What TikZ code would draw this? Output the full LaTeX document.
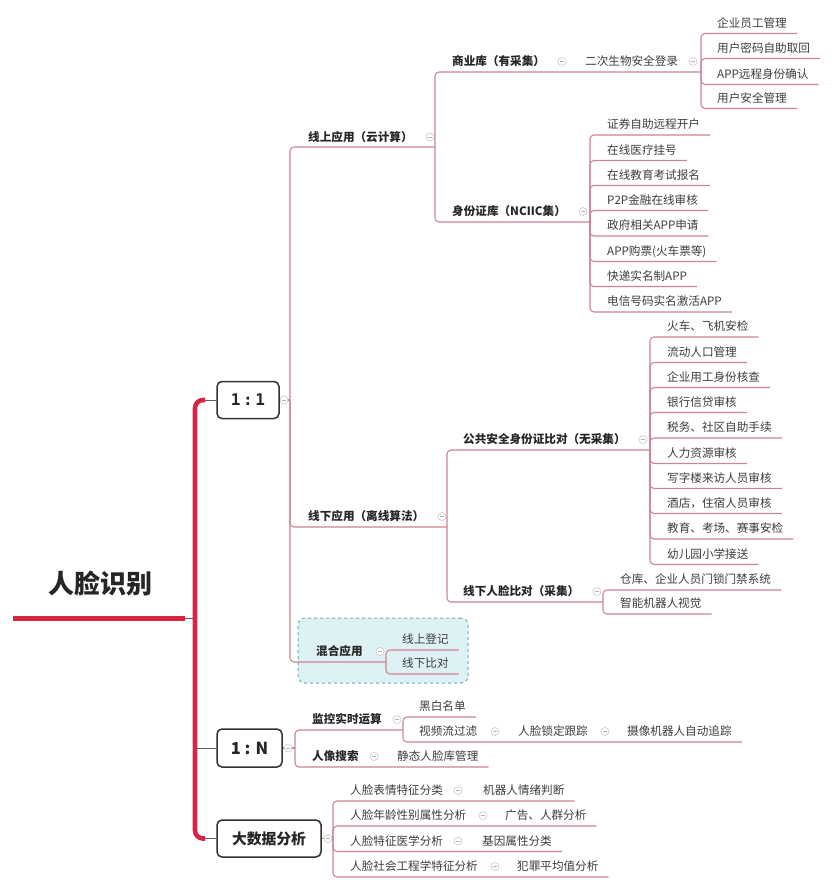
\documentclass[tikz,border=0pt]{standalone}
\usepackage{fontspec}
\setmainfont{Noto Sans CJK SC}
\newfontfamily\monofnt{DejaVu Sans Mono}
\usetikzlibrary{calc}
\definecolor{trunkred}{RGB}{214,38,66}
\definecolor{connc}{RGB}{206,132,146}
\definecolor{txt}{RGB}{60,60,60}
\definecolor{mixfill}{RGB}{222,241,245}
\definecolor{mixdraw}{RGB}{120,168,176}
\definecolor{boxdraw}{RGB}{50,50,50}
\tikzset{
  lf/.style={anchor=west, inner sep=0pt, text=txt, font=\fontsize{11.6}{13}\selectfont, text height=9.4pt, text depth=1.2pt},
  bd/.style={lf, font=\fontsize{11.6}{13}\selectfont\bfseries, text=black!85},
  conn/.style={draw=connc, line width=1.1pt, rounded corners=4pt},
  thinlink/.style={draw=gray!75!black, line width=1pt},
  trunk/.style={draw=trunkred, line width=4.6pt},
  fold/.style={circle, anchor=center, draw=gray!50, fill=white, line width=0.5pt, minimum size=8pt, inner sep=0pt,
    path picture={\draw[gray!60, line width=0.5pt] ([xshift=-2.2pt]path picture bounding box.center) -- ([xshift=2.2pt]path picture bounding box.center);}},
  topbox/.style={draw=boxdraw, fill=white, line width=1.5pt, rounded corners=5pt, inner sep=0pt, text=black!85, anchor=center},
  mixbox/.style={draw=mixdraw, fill=mixfill, dashed, line width=1pt, rounded corners=7pt, inner sep=0pt, anchor=center},
  rootnode/.style={font=\fontsize{26}{30}\selectfont\bfseries, text=black!85, inner sep=0pt, anchor=center}
}
\newcommand\leafnode[5]{\node[lf] (#1) at (#3,#4) {#5};
  \draw[conn] (#2) |- ($(#1.east)+(10,10.5)$);}
\newcommand\chainline[2]{\draw[conn] (#1) |- ($(#2.east)+(10,10.5)$);}
\begin{document}
\begin{tikzpicture}[x=1pt,y=-1pt]
\useasboundingbox (0,0) rectangle (832,889);

% ---------- root and trunk ----------
\node[rootnode] (root) at (100,583) {人脸识别};
\coordinate (R0) at (13,618);
\coordinate (R1) at (185,618);
\coordinate (T) at (195,618);
\coordinate (TN) at (195,748);
\coordinate (Ttop) at (205,400);
\coordinate (Tbot) at (205,838.5);
\draw[trunk, line width=5pt] (R0) -- (R1);
\draw[thinlink] (R1) -- (T);
\draw[trunk, rounded corners=8pt] (Ttop) -| (T) |- (Tbot);

% ---------- level-1 boxes ----------
\node[topbox, minimum width=62pt, minimum height=37pt, font=\monofnt\fontsize{16}{18}\selectfont\bfseries] (b11) at (248,400) {1\,:\,1};
\node[topbox, minimum width=65pt, minimum height=38pt, font=\fontsize{16.5}{18}\selectfont\bfseries] (bN) at (249.5,748) {1 : N};
\node[topbox, minimum width=104pt, minimum height=37pt, font=\fontsize{14.8}{17}\selectfont\bfseries] (bD) at (269,838.5) {大数据分析};
\draw[thinlink] (Ttop) -- (b11.west);
\draw[thinlink] (TN) -- (bN.west);
\draw[thinlink] (Tbot) -- (bD.west);

% ---------- forks ----------
\coordinate (F11) at (290,400);
\coordinate (FA) at (435,147);
\coordinate (FB) at (701,72);
\coordinate (FC) at (590,222);
\coordinate (FD) at (447,527);
\coordinate (FE) at (650,450);
\coordinate (FF) at (603,602);
\coordinate (FG) at (386,662);
\coordinate (FN) at (295,748);
\coordinate (FH) at (403,730);
\coordinate (FI) at (333,838.5);

% mixed box (background)
\node[mixbox, minimum width=170pt, minimum height=65pt] (mix) at (383,650.5) {};

% ---------- 1:1 ----------
\draw[conn] (b11.east) -- (F11);
\draw[conn] (F11) |- (FA);
\draw[conn] (F11) |- (FD);
\draw[conn] (F11) |- (FG);
\draw[conn] (FA) |- (FB);
\draw[conn] (FA) |- (FC);
\draw[conn] (FD) |- (FE);
\draw[conn] (FD) |- (FF);

\node[bd] (on) at (308,137) {线上应用（云计算）};
\node[bd] (biz) at (452,61.5) {商业库（有采集）};
\node[lf] (bio) at (585,61.5) {二次生物安全登录};
\node[bd] (idc) at (452,211.5) {身份证库（NCIIC集）};
\node[bd] (off) at (308,516.5) {线下应用（离线算法）};
\node[bd] (pub) at (463,439.5) {公共安全身份证比对（无采集）};
\node[bd] (ofc) at (463,591.5) {线下人脸比对（采集）};
\node[bd] (mixt) at (316,651.5) {混合应用};

\leafnode{b1}{FB}{717}{23}{企业员工管理}
\leafnode{b2}{FB}{717}{48}{用户密码自助取回}
\leafnode{b3}{FB}{717}{74}{APP远程身份确认}
\leafnode{b4}{FB}{717}{98}{用户安全管理}

\leafnode{c1}{FC}{607}{124.5}{证券自助远程开户}
\leafnode{c2}{FC}{607}{150}{在线医疗挂号}
\leafnode{c3}{FC}{607}{175}{在线教育考试报名}
\leafnode{c4}{FC}{607}{200}{P2P金融在线审核}
\leafnode{c5}{FC}{607}{225.5}{政府相关APP申请}
\leafnode{c6}{FC}{607}{251}{APP购票(火车票等)}
\leafnode{c7}{FC}{607}{276}{快递实名制APP}
\leafnode{c8}{FC}{607}{301.5}{电信号码实名激活APP}

\leafnode{e1}{FE}{667}{326.5}{火车、飞机安检}
\leafnode{e2}{FE}{667}{352}{流动人口管理}
\leafnode{e3}{FE}{667}{377}{企业用工身份核查}
\leafnode{e4}{FE}{667}{402}{银行信贷审核}
\leafnode{e5}{FE}{667}{427.5}{税务、社区自助手续}
\leafnode{e6}{FE}{667}{453}{人力资源审核}
\leafnode{e7}{FE}{667}{478}{写字楼来访人员审核}
\leafnode{e8}{FE}{667}{503}{酒店，住宿人员审核}
\leafnode{e9}{FE}{667}{528.5}{教育、考场、赛事安检}
\leafnode{e10}{FE}{667}{554}{幼儿园小学接送}

\leafnode{f1}{FF}{620}{579.5}{仓库、企业人员门锁门禁系统}
\leafnode{f2}{FF}{620}{603.5}{智能机器人视觉}

\leafnode{g1}{FG}{402}{639.5}{线上登记}
\leafnode{g2}{FG}{402}{663.5}{线下比对}

\node[fold] (k1) at (284,400) {};
\node[fold] (k2) at (430,137) {};
\node[fold] (k3) at (562,61.5) {};
\node[fold] (k4) at (693,61.5) {};
\node[fold] (k5) at (583,211.5) {};
\node[fold] (k6) at (442,516.5) {};
\node[fold] (k7) at (643,439.5) {};
\node[fold] (k8) at (597,591.5) {};
\node[fold] (k9) at (380,651.5) {};

% ---------- 1:N ----------
\draw[conn] (bN.east) -- (FN);
\draw[conn] (FN) |- (FH);
\node[bd] (mon) at (312,719.5) {监控实时运算};
\leafnode{h1}{FH}{419}{706.5}{黑白名单}
\node[lf] (h2) at (419,731.5) {视频流过滤};
\node[lf] (h3) at (518,731.5) {人脸锁定跟踪};
\node[lf] (h4) at (627,731.5) {摄像机器人自动追踪};
\chainline{FH}{h4}
\node[bd] (srch) at (312,756.5) {人像搜索};
\node[lf] (s2) at (397,756.5) {静态人脸库管理};
\chainline{FN}{s2}
\node[fold] (k10) at (288,748) {};
\node[fold] (k11) at (397,719.5) {};
\node[fold] (k12) at (495,731.5) {};
\node[fold] (k13) at (605,731.5) {};
\node[fold] (k14) at (374,756.5) {};

% ---------- big data ----------
\draw[conn] (bD.east) -- (FI);
\node[lf] (d1) at (350,790.5) {人脸表情特征分类};
\node[lf] (d1b) at (483,790.5) {机器人情绪判断};
\chainline{FI}{d1b}
\node[lf] (d2) at (350,815.5) {人脸年龄性别属性分析};
\node[lf] (d2b) at (505,815.5) {广告、人群分析};
\chainline{FI}{d2b}
\node[lf] (d3) at (350,841) {人脸特征医学分析};
\node[lf] (d3b) at (482,841) {基因属性分类};
\chainline{FI}{d3b}
\node[lf] (d4) at (350,866.5) {人脸社会工程学特征分析};
\node[lf] (d4b) at (517,866.5) {犯罪平均值分析};
\chainline{FI}{d4b}
\node[fold] (k15) at (328,838.5) {};
\node[fold] (k16) at (458,790.5) {};
\node[fold] (k17) at (483,815.5) {};
\node[fold] (k18) at (458,841) {};
\node[fold] (k19) at (495,866.5) {};
\end{tikzpicture}
\end{document}
